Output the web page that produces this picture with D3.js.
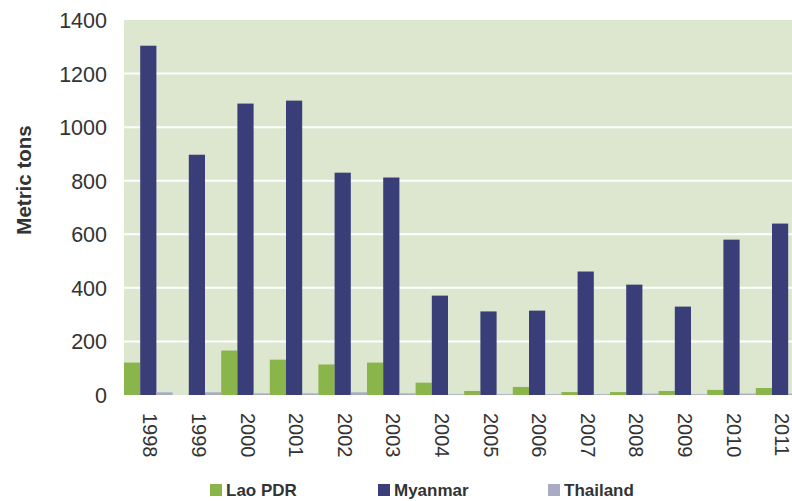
<!DOCTYPE html>
<meta charset="utf-8">
<style>
  body { margin: 0; background: #fff; }
  svg { display: block; font-family: "Liberation Sans", Arial, sans-serif; }
  .tick text { fill: #333; }
  .legend text { font-weight: bold; font-size: 17px; fill: #333; }
</style>
<svg width="792" height="501"></svg>
<script src="https://d3js.org/d3.v7.min.js"></script>
<script>
var years = ["1998", "1999", "2000", "2001", "2002", "2003", "2004", "2005", "2006", "2007", "2008", "2009", "2010", "2011"];
var series = ["Lao PDR", "Myanmar", "Thailand"];
var lao = [121, 0, 166, 132, 114, 121, 46, 15, 30, 11, 11, 15, 19, 26];
var myanmar = [1304, 897, 1088, 1099, 830, 812, 371, 312, 315, 461, 412, 330, 580, 640];
var thailand = [10, 10, 6, 6, 10, 6, 3, 3, 3, 3, 5, 3, 5, 5];
var colors = ["#8ab54a", "#3a3e78", "#a9abc2"];
var yTicks = [0, 200, 400, 600, 800, 1000, 1200, 1400];

var values = [lao, myanmar, thailand];

var svg = d3.select("svg");

var mLeft = 124, mTop = 20, mBottom = 395;
var plotW = 48.6 * years.length;

var x = d3.scaleBand().domain(years).range([mLeft, mLeft + plotW]).padding(0);
var xi = d3.scaleBand().domain(series).range([0, x.bandwidth()]).padding(0);
var y = d3.scaleLinear().domain([0, 1400]).range([mBottom, mTop]);

// plot background
svg.append("rect")
    .attr("x", mLeft)
    .attr("y", mTop)
    .attr("width", plotW)
    .attr("height", mBottom - mTop)
    .attr("fill", "#dde6cf");

// gridlines
svg.append("g")
    .selectAll("line")
    .data(yTicks.filter(function(d) { return d > 0 && d < 1400; }))
    .enter()
    .append("line")
    .attr("x1", mLeft)
    .attr("x2", mLeft + plotW)
    .attr("y1", function(d) { return y(d); })
    .attr("y2", function(d) { return y(d); })
    .attr("stroke", "#fff")
    .attr("stroke-width", 2);

// bars
var groups = svg.append("g")
    .selectAll("g")
    .data(years)
    .enter()
    .append("g")
    .attr("transform", function(d) { return "translate(" + x(d) + ",0)"; });

groups.selectAll("rect")
    .data(function(d, i) { return series.map(function(s, k) { return { s: s, k: k, v: values[k][i] }; }); })
    .enter()
    .append("rect")
    .attr("x", function(d) { return xi(d.s); })
    .attr("width", xi.bandwidth())
    .attr("y", function(d) { return y(d.v); })
    .attr("height", function(d) { return y(0) - y(d.v); })
    .attr("fill", function(d) { return colors[d.k]; });

// y axis
var yAxis = svg.append("g")
    .attr("transform", "translate(" + mLeft + ",0)")
    .call(d3.axisLeft(y).tickValues(yTicks).tickFormat(d3.format("d")).tickSize(0).tickPadding(17));
yAxis.select(".domain").remove();
yAxis.selectAll("text").style("font-size", "21.5px").attr("dy", "0.35em");

// x axis
var xAxis = svg.append("g")
    .attr("transform", "translate(0," + mBottom + ")")
    .call(d3.axisBottom(x).tickSize(0));
xAxis.select(".domain").remove();
xAxis.selectAll("text")
    .style("font-size", "20px")
    .style("text-anchor", "start")
    .attr("dy", null)
    .attr("y", 0)
    .attr("transform", "translate(" + 2 + ",18) rotate(90)")
    .attr("dominant-baseline", "central");

// y title
svg.append("text")
    .attr("transform", "translate(23,180) rotate(-90)")
    .attr("text-anchor", "middle")
    .attr("dominant-baseline", "central")
    .style("font-weight", "bold")
    .style("font-size", "20.5px")
    .attr("fill", "#333")
    .text("Metric tons");

// legend
var legendX = [210, 378, 548];
var legend = svg.selectAll(".legend")
    .data(series)
    .enter()
    .append("g")
    .attr("class", "legend")
    .attr("transform", function(d, i) { return "translate(" + legendX[i] + ",484)"; });

legend.append("rect")
    .attr("width", 12)
    .attr("height", 12)
    .attr("fill", function(d, i) { return colors[i]; });

legend.append("text")
    .attr("x", 16)
    .attr("y", 6)
    .attr("dy", "0.36em")
    .text(function(d) { return d; });
</script>
